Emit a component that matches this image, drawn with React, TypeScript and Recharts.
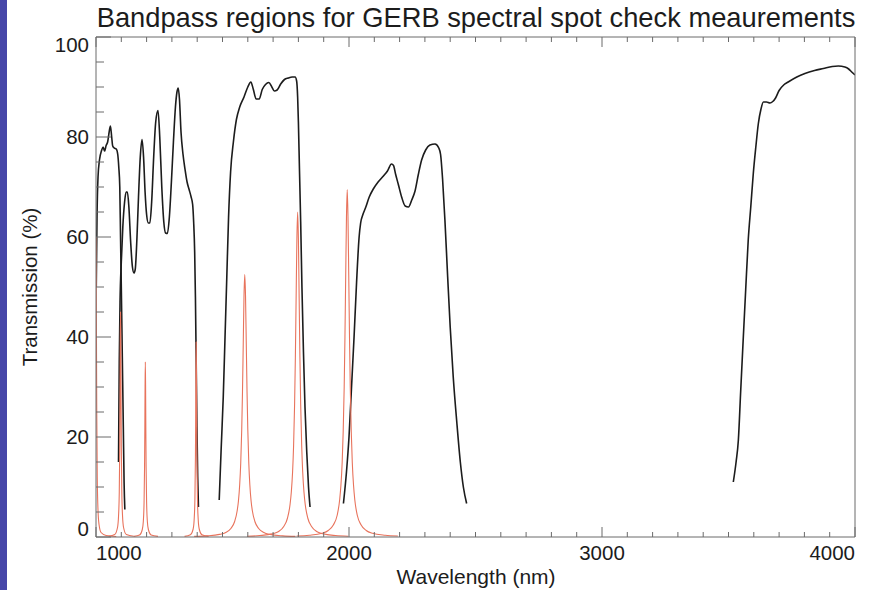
import { LineChart, Line, XAxis, YAxis } from 'recharts';

// axis ticks (IDL style: minor every 100 nm / 5 %)
const xTicks = [
  1000, 1100, 1200, 1300, 1400, 1500, 1600, 1700, 1800, 1900, 2000,
  2100, 2200, 2300, 2400, 2500, 2600, 2700, 2800, 2900, 3000,
  3100, 3200, 3300, 3400, 3500, 3600, 3700, 3800, 3900, 4000,
];
const xMajor = [1000, 2000, 3000, 4000];
const yTicks = [0, 5, 10, 15, 20, 25, 30, 35, 40, 45, 50, 55, 60, 65, 70, 75, 80, 85, 90, 95, 100];
const yMajor = [0, 20, 40, 60, 80, 100];

// filter transmission curves (black), [wavelength nm, transmission %]
const filter1 = [
  [1001, 50], [1004, 64], [1008, 72], [1014, 75.5], [1022, 77.3], [1028, 78], [1034, 77.2],
  [1040, 78.3], [1046, 79], [1052, 81], [1057, 82.2], [1062, 80], [1066, 78.2], [1072, 77.8],
  [1080, 77.6], [1086, 76.5], [1090, 74], [1094, 70], [1097, 60], [1100, 50], [1104, 36],
  [1108, 22], [1111, 11], [1114, 5.5],
];
const filter2 = [
  [1089, 15], [1092, 35], [1095, 47], [1100, 55], [1106, 62], [1113, 67], [1119, 69], [1124, 69],
  [1130, 66], [1137, 59], [1144, 54], [1150, 52.8], [1155, 53.5], [1162, 60], [1168, 68],
  [1175, 76], [1182, 79.5], [1188, 76], [1194, 69], [1200, 64.5], [1207, 62.8], [1213, 62.8],
  [1220, 67], [1228, 76], [1236, 83], [1245, 85.3], [1252, 80], [1260, 70], [1268, 63],
  [1275, 60.8], [1282, 60.7], [1290, 64], [1298, 71], [1306, 79], [1314, 86], [1320, 89],
  [1325, 89.8], [1330, 87.5], [1336, 81], [1344, 76.5], [1352, 73.5], [1360, 71], [1368, 69.5],
  [1376, 68], [1382, 66.5], [1386, 63], [1390, 57], [1393, 48], [1396, 35], [1399, 22],
  [1402, 12], [1405, 6],
];
const filter3 = [
  [1487, 7.4], [1495, 18], [1503, 28], [1510, 40], [1517, 52], [1524, 64], [1532, 73],
  [1543, 79], [1555, 83.5], [1568, 86], [1585, 88], [1600, 90], [1612, 91], [1622, 89.5],
  [1633, 87.6], [1645, 87.6], [1657, 89.5], [1670, 90.5], [1683, 90.9], [1695, 90],
  [1705, 89.2], [1716, 89.4], [1730, 90.6], [1745, 91.5], [1760, 91.8], [1775, 92],
  [1787, 92], [1793, 91.2], [1797, 88], [1800, 83], [1804, 74], [1809, 63], [1814, 50],
  [1820, 37], [1826, 26], [1833, 17], [1840, 10], [1846, 6],
];
const filter4 = [
  [1978, 6.7], [1990, 13], [2000, 20], [2010, 30], [2020, 40], [2030, 51], [2040, 60],
  [2046, 62.8], [2055, 64.5], [2065, 65.8], [2080, 68], [2096, 69.6], [2115, 71], [2136, 72.2],
  [2152, 73.2], [2168, 74.6], [2176, 74.3], [2184, 72.6], [2195, 70.5], [2208, 68], [2222, 66.2],
  [2235, 66], [2248, 67.4], [2261, 69.2], [2274, 72.5], [2287, 75.4], [2303, 77.4], [2320, 78.4],
  [2340, 78.6], [2355, 77.8], [2362, 76.5], [2370, 71.5], [2379, 63.5], [2390, 52], [2400, 42],
  [2412, 32], [2426, 23], [2440, 15], [2452, 10], [2465, 6.7],
];
const filter5 = [
  [3519, 11], [3530, 15], [3539, 19.4], [3548, 29], [3558, 39.4], [3568, 49.5], [3578, 59.4],
  [3588, 66], [3598, 72.7], [3608, 78], [3618, 82.7], [3628, 85.5], [3638, 87], [3650, 87],
  [3664, 86.8], [3675, 87.1], [3686, 87.8], [3700, 89.3], [3718, 90.4], [3736, 91], [3770, 92],
  [3802, 92.7], [3840, 93.3], [3875, 93.7], [3910, 94.1], [3934, 94.2], [3960, 94], [3975, 93.6],
  [3987, 93], [4000, 92.4],
];

// spot check bandpass peaks (red)
const peak1000 = [
  [1000, 60], [1001, 52], [1002, 37], [1003, 25], [1005, 12], [1008, 5.3], [1012, 2.5],
  [1020, 0.9], [1040, 0.3], [1080, 0.1],
];
const peak1100 = [
  [1050, 0.15], [1074, 0.5], [1085, 1.9], [1089, 4.1], [1092, 9], [1094, 18.4], [1095, 27.4],
  [1096, 38.8], [1097, 45], [1098, 38.8], [1099, 27.4], [1100, 18.4], [1102, 9], [1105, 4.1],
  [1109, 1.9], [1120, 0.5], [1150, 0.15],
];
const peak1200 = [
  [1150, 0.12], [1172, 0.4], [1183, 1.5], [1187, 3.1], [1190, 7], [1192, 14.3], [1193, 21.3],
  [1194, 30.2], [1195, 35], [1196, 30.2], [1197, 21.3], [1198, 14.3], [1200, 7], [1203, 3.1],
  [1207, 1.5], [1218, 0.4], [1245, 0.12],
];
const peak1400 = [
  [1350, 0.13], [1373, 0.45], [1384, 1.6], [1388, 3.5], [1391, 7.8], [1393, 16], [1394, 23.8],
  [1395, 33.6], [1396, 39], [1397, 33.6], [1398, 23.8], [1399, 16], [1401, 7.8], [1404, 3.5],
  [1408, 1.6], [1419, 0.45], [1445, 0.13],
];
const peak1600 = [
  [1388, 0.13], [1438, 0.23], [1488, 0.52], [1513, 0.92], [1533, 1.7], [1548, 3.1], [1558, 5.25],
  [1563, 7.2], [1568, 10.5], [1572, 14.7], [1576, 21.5], [1579, 29], [1582, 38.6], [1585, 48.2],
  [1588, 52.5], [1591, 48.2], [1594, 38.6], [1597, 29], [1600, 21.5], [1604, 14.7], [1608, 10.5],
  [1613, 7.2], [1618, 5.25], [1628, 3.1], [1643, 1.7], [1663, 0.92], [1688, 0.52], [1738, 0.23],
  [1788, 0.13],
];
const peak1800 = [
  [1597, 0.16], [1647, 0.29], [1697, 0.64], [1722, 1.1], [1742, 2.1], [1757, 3.8], [1767, 6.5],
  [1772, 9], [1777, 13], [1781, 18.3], [1785, 26.6], [1788, 35.9], [1791, 47.8], [1794, 59.6],
  [1797, 65], [1800, 59.6], [1803, 47.8], [1806, 35.9], [1809, 26.6], [1813, 18.3], [1817, 13],
  [1822, 9], [1827, 6.5], [1837, 3.8], [1852, 2.1], [1872, 1.1], [1897, 0.64], [1947, 0.29],
  [1997, 0.16],
];
const peak2000 = [
  [1793, 0.19], [1843, 0.34], [1893, 0.74], [1918, 1.3], [1938, 2.4], [1953, 4.3], [1963, 7.4],
  [1968, 10.3], [1973, 14.9], [1977, 21], [1981, 30], [1984, 40], [1987, 52.4], [1990, 64],
  [1993, 69.5], [1996, 64], [1999, 52.4], [2002, 40], [2005, 30], [2009, 21], [2013, 14.9],
  [2018, 10.3], [2023, 7.4], [2033, 4.3], [2048, 2.4], [2068, 1.3], [2093, 0.74], [2143, 0.34],
  [2193, 0.19],
];

const toPoints = (arr: number[][]) => arr.map(([wl, t]) => ({ wl, t }));
const blackCurves = [filter1, filter2, filter3, filter4, filter5].map(toPoints);
const redCurves = [peak1000, peak1100, peak1200, peak1400, peak1600, peak1800, peak2000].map(toPoints);

const FONT = '"Liberation Sans", Arial, Helvetica, sans-serif';
const INK = '#1c1c1c';
const AXIS = '#6a6a6a';
const RED = '#e8735c';

const BottomTick = ({ x, y, payload }: any) => {
  const v = payload.value;
  const major = xMajor.includes(v);
  const anchor = v === 1000 ? 'start' : v === 4000 ? 'end' : 'middle';
  return (
    <g>
      <line x1={x} x2={x} y1={y} y2={y - (major ? 10 : 5)} stroke={AXIS} />
      {major && (
        <text x={x} y={y + 23} textAnchor={anchor} fontSize={20.5} fontFamily={FONT} fill={INK}>
          {v}
        </text>
      )}
    </g>
  );
};

const TopTick = ({ x, y, payload }: any) => {
  const major = xMajor.includes(payload.value);
  return <line x1={x} x2={x} y1={y} y2={y + (major ? 10 : 5)} stroke={AXIS} />;
};

const LeftTick = ({ x, y, payload }: any) => {
  const v = payload.value;
  const major = yMajor.includes(v);
  const shift = v === 100 ? 8 : v === 0 ? -8 : 0;
  return (
    <g>
      <line x1={x} x2={x + (major ? 15 : 8)} y1={y} y2={y} stroke={AXIS} />
      {major && (
        <text x={x - 7} y={y + shift} dy="0.36em" textAnchor="end" fontSize={20.5} fontFamily={FONT} fill={INK}>
          {v}
        </text>
      )}
    </g>
  );
};

const RightTick = ({ x, y, payload }: any) => {
  const major = yMajor.includes(payload.value);
  return <line x1={x} x2={x - (major ? 15 : 8)} y1={y} y2={y} stroke={AXIS} />;
};

export default function App() {
  return (
    <div style={{ position: 'absolute', left: 0, top: 0, width: 880, height: 590, background: '#fff' }}>
      <div style={{ position: 'absolute', left: 0, top: 0, width: 7, height: 590, background: '#4646a8' }} />
      <LineChart width={880} height={590} margin={{ top: 36, right: 24, bottom: 52, left: 95 }}>
        <XAxis
          xAxisId="bottom"
          dataKey="wl"
          type="number"
          domain={[1000, 4000]}
          allowDataOverflow
          ticks={xTicks}
          interval={0}
          height={1}
          tickSize={0}
          tickMargin={0}
          tickLine={false}
          axisLine={{ stroke: AXIS }}
          tick={(p: any) => <BottomTick {...p} />}
        />
        <XAxis
          xAxisId="top"
          orientation="top"
          dataKey="wl"
          type="number"
          domain={[1000, 4000]}
          allowDataOverflow
          ticks={xTicks}
          interval={0}
          height={1}
          tickSize={0}
          tickMargin={0}
          tickLine={false}
          axisLine={{ stroke: AXIS }}
          tick={(p: any) => <TopTick {...p} />}
        />
        <YAxis
          yAxisId="left"
          type="number"
          domain={[0, 100]}
          ticks={yTicks}
          interval={0}
          width={1}
          tickSize={0}
          tickMargin={0}
          tickLine={false}
          axisLine={{ stroke: AXIS }}
          tick={(p: any) => <LeftTick {...p} />}
        />
        <YAxis
          yAxisId="right"
          orientation="right"
          type="number"
          domain={[0, 100]}
          ticks={yTicks}
          interval={0}
          width={1}
          tickSize={0}
          tickMargin={0}
          tickLine={false}
          axisLine={{ stroke: AXIS }}
          tick={(p: any) => <RightTick {...p} />}
        />
        {blackCurves.map((d, i) => (
          <Line
            key={'f' + i}
            xAxisId="bottom"
            yAxisId="left"
            data={d}
            dataKey="t"
            type="monotone"
            stroke={INK}
            strokeWidth={1.6}
            dot={false}
            activeDot={false}
            isAnimationActive={false}
          />
        ))}
        {redCurves.map((d, i) => (
          <Line
            key={'p' + i}
            xAxisId="bottom"
            yAxisId="left"
            data={d}
            dataKey="t"
            type="monotone"
            stroke={RED}
            strokeWidth={1.1}
            dot={false}
            activeDot={false}
            isAnimationActive={false}
          />
        ))}
      </LineChart>
      <svg
        width={880}
        height={590}
        style={{ position: 'absolute', left: 0, top: 0, pointerEvents: 'none' }}
        fontFamily={FONT}
        fill={INK}
      >
        <text x={476} y={27} textAnchor="middle" fontSize={27.3}>
          Bandpass regions for GERB spectral spot check meaurements
        </text>
        <text x={476} y={584} textAnchor="middle" fontSize={21}>
          Wavelength (nm)
        </text>
        <text transform="translate(37, 287) rotate(-90)" textAnchor="middle" fontSize={20.5}>
          Transmission (%)
        </text>
      </svg>
    </div>
  );
}
